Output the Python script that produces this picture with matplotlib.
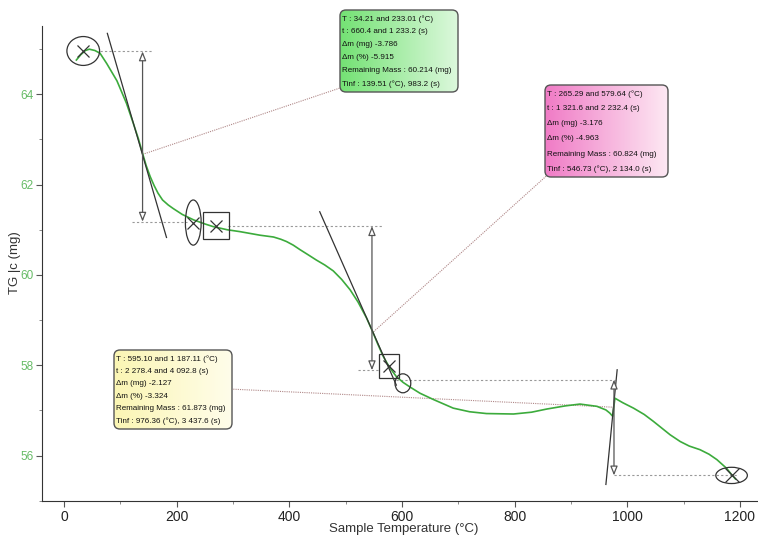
#Importing necessary libraries
import numpy as np
import matplotlib.pyplot as plt
from matplotlib.patches import Ellipse, Rectangle, FancyBboxPatch
from matplotlib.colors import LinearSegmentedColormap

plt.rcParams['font.family'] = ['Liberation Sans', 'DejaVu Sans']

# TG curve (sample temperature in degC, mass in mg)
temperature = [22, 30, 38, 45, 55, 64, 76, 94, 111, 123, 132, 140, 146, 153, 160, 167, 175,
               185, 194, 210, 230, 250, 265, 290, 312, 348, 372, 385, 395, 407, 419, 433,
               448, 463, 478, 493, 508, 522, 537, 548, 557, 567, 578, 590, 602, 614, 632,
               656, 691, 720, 750, 798, 830, 857, 890, 916, 946, 962, 969, 974, 978, 992,
               1011, 1030, 1046, 1076, 1094, 1110, 1129, 1145, 1159, 1176, 1185, 1192]
mass = [64.76, 64.88, 64.97, 65.00, 64.97, 64.91, 64.68, 64.30, 63.80, 63.36, 63.02, 62.67,
        62.42, 62.18, 61.98, 61.81, 61.66, 61.55, 61.47, 61.34, 61.22, 61.13, 61.07, 61.00,
        60.96, 60.88, 60.84, 60.79, 60.74, 60.66, 60.56, 60.45, 60.33, 60.22, 60.09, 59.90,
        59.67, 59.40, 59.05, 58.74, 58.47, 58.19, 57.95, 57.75, 57.62, 57.52, 57.38, 57.24,
        57.05, 56.97, 56.93, 56.92, 56.96, 57.03, 57.10, 57.14, 57.09, 57.01, 56.94, 56.87,
        57.27, 57.17, 57.05, 56.91, 56.76, 56.46, 56.31, 56.21, 56.13, 56.03, 55.91, 55.72,
        55.58, 55.48]

# mass loss steps: onset / end temperature, inflection and level marks
step_start = [34.21, 265.29, 595.10]
step_end = [233.01, 579.64, 1187.11]
step_tinf = [139.51, 546.73, 976.36]
level_top = [64.95, 61.08, 57.68]
level_bottom = [61.18, 57.89, 55.56]
inf_mass = [62.67, 58.71, 57.07]
tangent_t = [(77, 182), (454, 590), (982, 962)]
tangent_m = [(65.35, 60.83), (61.40, 57.56), (57.90, 55.36)]

# annotation texts
step_text = [
    ["T : 34.21 and 233.01 (°C)", "t : 660.4 and 1 233.2 (s)", "Δm (mg) -3.786",
     "Δm (%) -5.915", "Remaining Mass : 60.214 (mg)", "Tinf : 139.51 (°C), 983.2 (s)"],
    ["T : 265.29 and 579.64 (°C)", "t : 1 321.6 and 2 232.4 (s)", "Δm (mg) -3.176",
     "Δm (%) -4.963", "Remaining Mass : 60.824 (mg)", "Tinf : 546.73 (°C), 2 134.0 (s)"],
    ["T : 595.10 and 1 187.11 (°C)", "t : 2 278.4 and 4 092.8 (s)", "Δm (mg) -2.127",
     "Δm (%) -3.324", "Remaining Mass : 61.873 (mg)", "Tinf : 976.36 (°C), 3 437.6 (s)"],
]

W, H = 758, 536
fig = plt.figure(figsize=(W / 100, H / 100), dpi=100)
ax = fig.add_axes([42 / W, 1 - 500.7 / H, 1 - 42 / W, (500.7 - 25.7) / H])

ax.plot(temperature, mass, color='#3cab3c', lw=1.2, zorder=3)

# tangents at the inflection points
for tt, mm in zip(tangent_t, tangent_m):
    ax.plot(tt, mm, color='#333333', lw=0.9, zorder=4)

# dotted level lines and double arrows
dot = dict(color='#999999', lw=0.8, ls=(0, (2, 2)), zorder=2)
ax.plot([64, 156], [level_top[0]] * 2, **dot)
ax.plot([120, 218], [level_bottom[0]] * 2, **dot)
ax.plot([292, 567], [level_top[1]] * 2, **dot)
ax.plot([522, 561], [level_bottom[1]] * 2, **dot)
ax.plot([590, 978], [level_top[2]] * 2, **dot)
ax.plot([976, 1195], [level_bottom[2]] * 2, **dot)

for t, top, bot in zip(step_tinf, level_top, level_bottom):
    ax.annotate('', xy=(t, top), xytext=(t, bot),
                arrowprops=dict(arrowstyle='<|-|>,head_length=0.55,head_width=0.22',
                                fc='white', ec='#555555', lw=0.9, shrinkA=0, shrinkB=0),
                zorder=4)

# start / end markers of each step
mk = dict(fill=False, ec='#333333', lw=0.9, zorder=5)
ax.add_patch(Ellipse((step_start[0], 64.96), 58, 0.64, **mk))
ax.add_patch(Ellipse((step_end[0] - 3.5, 61.16), 28, 1.0, **mk))
ax.add_patch(Rectangle((step_start[1] - 18, 60.79), 45, 0.60, **mk))
ax.add_patch(Rectangle((559, 57.72), 36, 0.53, **mk))
ax.add_patch(Ellipse((step_end[1] + 22, 57.60), 28, 0.42, **mk))
ax.add_patch(Ellipse((step_end[2] - 2, 55.56), 56, 0.36, **mk))
cross_t = [34.3, 229.5, 269, 577]
cross_m = [64.96, 61.16, 61.09, 57.98]
ax.plot(cross_t, cross_m, ls='none', marker='x', ms=9, mew=0.9, color='#333333', zorder=5)
ax.plot([1185], [55.56], ls='none', marker='x', ms=10, mew=0.9, color='#333333', zorder=5)

# leader lines from inflection points to the info boxes
lead = dict(color='#b08888', lw=0.8, ls=(0, (1, 1)), zorder=2)
ax.plot([step_tinf[0], 490], [inf_mass[0], 64.14], **lead)
ax.plot([step_tinf[1], 857], [inf_mass[1], 62.20], **lead)
ax.plot([step_tinf[2], 300], [inf_mass[2], 57.47], **lead)

# axes styling
ax.set_xlim(-39, 1232)
ax.set_ylim(55.01, 65.52)
ax.set_xticks([0, 200, 400, 600, 800, 1000, 1200])
ax.set_xticks([100, 300, 500, 700, 900, 1100], minor=True)
ax.set_yticks([56, 58, 60, 62, 64])
ax.set_yticks([55, 57, 59, 61, 63, 65], minor=True)
for side in ['top', 'right']:
    ax.spines[side].set_visible(False)
for side in ['left', 'bottom']:
    ax.spines[side].set_color('#333333')
ax.tick_params(which='major', length=4, color='#555555')
ax.tick_params(which='minor', length=2, color='#777777')
ax.tick_params(axis='x', labelsize=10, labelcolor='#222222', pad=3)
ax.tick_params(axis='y', labelsize=8.5, labelcolor='#66bb66', pad=2)
ax.patch.set_alpha(0)

fig.text(15 / W, 1 - 263 / H, 'TG |c (mg)', rotation=90, ha='center', va='center',
         fontsize=9.5, color='#333333')
fig.text(404 / W, 1 - 529 / H, 'Sample Temperature (°C)', ha='center', va='center',
         fontsize=9.5, color='#333333')


def info_box(x0, y0, x1, y1, lines, c_left, c_right):
    w, h = x1 - x0, y1 - y0
    bax = fig.add_axes([x0 / W, 1 - y1 / H, w / W, h / H])
    bax.set_axis_off()
    bax.set_xlim(0, 1)
    bax.set_ylim(0, 1)
    box = FancyBboxPatch((0, 0), 1, 1, boxstyle='round,pad=0,rounding_size=%f' % (6 / w),
                         mutation_aspect=w / h, fc='none', ec='#555555', lw=1.0,
                         transform=bax.transAxes, clip_on=False, zorder=3)
    bax.add_patch(box)
    cmap = LinearSegmentedColormap.from_list('box', [c_left, c_right])
    grad = np.linspace(0, 1, 100).reshape(1, -1)
    img = bax.imshow(grad, extent=(0, 1, 0, 1), aspect='auto', cmap=cmap, zorder=1)
    img.set_clip_path(box)
    n = len(lines)
    for i, s in enumerate(lines):
        yy = 9 + i * (h - 17) / (n - 1)
        bax.text(2 / w, 1 - yy / h, s, ha='left', va='center', fontsize=5.8,
                 color='#111111', zorder=4)


info_box(340, 10, 458, 92, step_text[0], '#74e274', '#dcf8dc')
info_box(545, 85, 668, 177, step_text[1], '#f07cc6', '#fde8f3')
info_box(114, 350, 232, 429, step_text[2], '#fbf6b4', '#fffdea')

plt.savefig('out.png', dpi=100)
